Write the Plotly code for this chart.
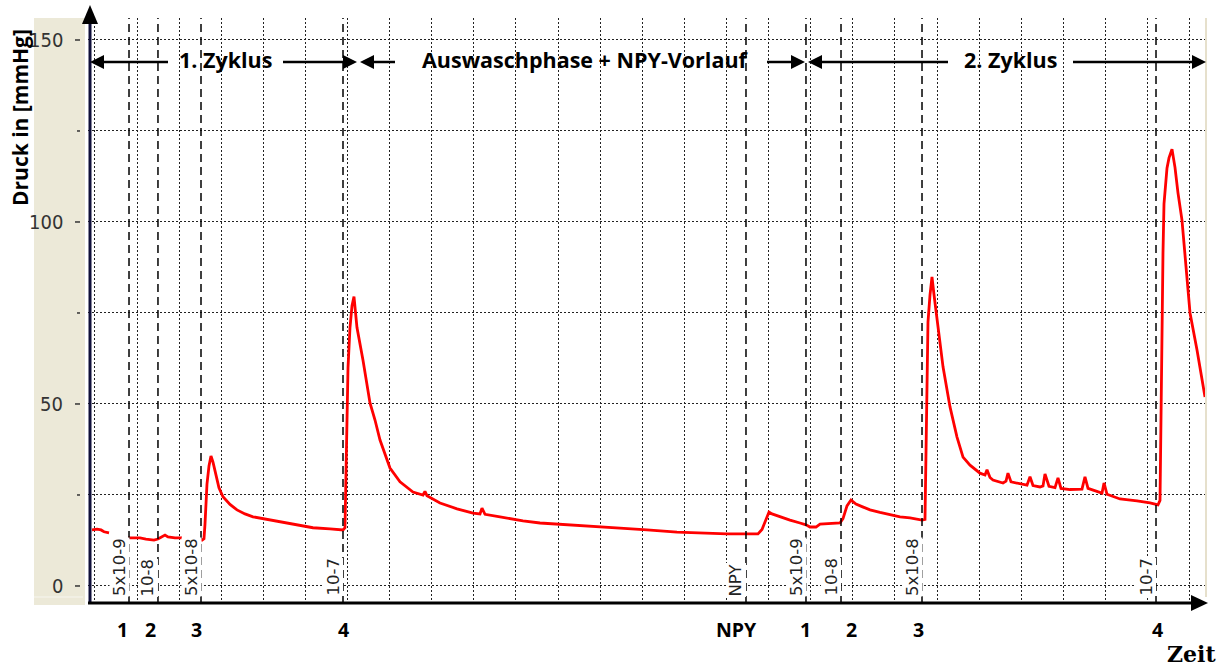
import plotly.graph_objects as go

# ---------------- data (time in grid units, pressure in mmHg) ----------------
time = [
    -0.071, 0.048, 0.143, 0.214, 0.333, None,
    0.784, 1.069, 1.211, 1.401, 1.496, 1.591, 1.663, 1.734, 1.900, 2.067, None,
    2.518, 2.589, 2.613, 2.637, 2.660, 2.708, 2.755, 2.803, 2.874, 2.945, 3.040,
    3.207, 3.373, 3.563, 3.753, 4.038, 4.394, 4.751, 5.178, 5.582, 5.891,
    5.938, 5.962, 6.010, 6.057, 6.105, 6.152, 6.223, 6.366, 6.532, 6.651, 6.770,
    7.007, 7.245, 7.553, 7.791, 7.838, 7.886, 8.195, 8.599, 8.979, 9.145, 9.192,
    9.264, 9.620, 10.166, 10.570, 11.354, 12.067, 12.470, 13.112, 13.824, 15.012,
    15.748, 15.843, 15.938, 16.010, 16.081, 16.271, 16.508, 16.746, 16.888, 16.983,
    17.126, 17.221, 17.696, 17.767, 17.862, 17.957, 18.076, 18.219, 18.409, 18.646,
    18.884, 19.121, 19.359, 19.644, 19.715, 19.739, 19.762, 19.786, 19.834, 19.881,
    19.929, 20.000, 20.071, 20.143, 20.309, 20.475, 20.618, 20.784, 21.021, 21.140,
    21.188, 21.259, 21.330, 21.568, 21.639, 21.686, 21.758, 22.138, 22.209, 22.280,
    22.447, 22.518, 22.565, 22.660, 22.803, 22.874, 22.945, 23.159, 23.444, 23.515,
    23.587, 23.753, 23.919, 23.967, 24.038, 24.347, 24.751, 25.059, 25.249, 25.297,
    25.321, 25.368, 25.392, 25.463, 25.511, 25.582, 25.653, 25.724, 25.819, 25.914,
    25.962, 26.010, 26.176, 26.366,
]
pressure = [
    15.4, 15.6, 15.4, 14.9, 14.6, None,
    13.2, 13.2, 12.9, 12.6, 12.9, 13.5, 14.0, 13.5, 13.2, 13.2, None,
    12.4, 13.0, 17.0, 22.0, 28.0, 33.0, 35.7, 34.0, 30.0, 27.0, 24.5,
    22.4, 20.9, 19.8, 19.0, 18.4, 17.6, 16.9, 16.0, 15.7, 15.4,
    16.0, 35.0, 60.0, 71.0, 77.0, 79.5, 71.0, 62.0, 50.3, 45.6, 40.1,
    32.4, 28.6, 25.8, 25.0, 26.0, 24.8, 22.8, 21.2, 20.0, 19.8, 21.4,
    19.7, 19.0, 17.9, 17.3, 16.8, 16.2, 15.9, 15.4, 14.8, 14.3,
    14.3, 15.5, 18.5, 20.3, 19.8, 19.0, 18.1, 17.3, 16.8, 16.2,
    16.2, 17.0, 17.3, 18.5, 22.0, 23.6, 22.5, 21.8, 20.9, 20.2,
    19.5, 19.0, 18.7, 18.1, 18.3, 35.0, 53.0, 72.5, 80.0, 84.9,
    80.0, 73.9, 67.0, 60.2, 49.2, 40.9, 35.4, 33.2, 31.0, 30.5,
    31.9, 29.8, 29.1, 28.3, 28.8, 31.0, 28.6, 27.7, 30.0, 27.6,
    27.2, 27.5, 30.8, 27.4, 27.0, 29.7, 26.8, 26.5, 26.6, 30.0,
    26.8, 26.2, 25.5, 28.3, 25.2, 23.9, 23.4, 22.8, 22.3, 23.5,
    49.0, 91.5, 105.0, 114.8, 117.6, 120.0, 115.0, 108.0, 100.5, 87.6,
    83.2, 75.0, 64.8, 51.9,
]

marker_time = [0.808, 1.496, 2.518, 5.891, 15.463, 16.888, 17.720, 19.644, 25.202]
marker_conc = ["5x10-9", "10-8", "5x10-8", "10-7", "NPY", "5x10-9", "10-8", "5x10-8", "10-7"]
marker_step = ["1", "2", "3", "4", "NPY", "1", "2", "3", "4"]
step_shift = [-7, -7, -5, 0, -9, 0, 10, -4, 1]

y_major = [0, 50, 100, 150]
y_minor = [25, 75, 125]
phase_names = ["1. Zyklus", "Auswaschphase + NPY-Vorlauf", "2. Zyklus"]
# pixel geometry of phase arrows: left tip, left line end, text centre, right line start, right tip
phase_geom = [(90, 168, 225, 283, 357), (360, 395, 585, 767, 805), (808, 948, 1010, 1073, 1206)]

# ---------------- layout geometry ----------------
W, H = 1230, 666
L, R, T, B = 88, 22, 18, 62
PW, PH = W - L - R, H - T - B


def P(px):
    return (px - L) / PW


def Q(py):
    return (T + PH - py) / PH


BOLD = "Open Sans"
fig = go.Figure()
fig.add_trace(go.Scatter(x=time, y=pressure, mode="lines",
                         line=dict(color="#ff0000", width=2.8),
                         connectgaps=False, hoverinfo="skip", showlegend=False))

shapes = []
annotations = []

# beige panel left
shapes.append(dict(type="rect", xref="paper", yref="paper", x0=P(34), x1=P(85), y0=Q(605), y1=Q(18),
                   fillcolor="#ECE9D8", line=dict(width=0), layer="below"))
shapes.append(dict(type="line", xref="paper", yref="paper", x0=P(34), x1=P(83), y0=Q(597), y1=Q(597),
                   line=dict(color="#F7F6F0", width=1)))
shapes.append(dict(type="line", xref="paper", yref="paper", x0=P(1206), x1=P(1206), y0=Q(597), y1=Q(18),
                   line=dict(color="#E6E0CC", width=2)))

# dashed marker lines
for t in marker_time:
    shapes.append(dict(type="line", xref="x", yref="paper", x0=t, x1=t, y0=0, y1=1,
                       line=dict(color="#000", width=1.5, dash="8px,5px")))

# axes with arrows
shapes.append(dict(type="line", xref="paper", yref="paper", x0=P(90), x1=P(90), y0=Q(604), y1=Q(22),
                   line=dict(color="#10103a", width=3)))
shapes.append(dict(type="path", xref="paper", yref="paper",
                   path=f"M {P(90)},{Q(5)} L {P(82)},{Q(24)} L {P(98)},{Q(24)} Z",
                   fillcolor="#000", line=dict(width=0)))
shapes.append(dict(type="line", xref="paper", yref="paper", x0=P(88), x1=P(1193), y0=Q(603), y1=Q(603),
                   line=dict(color="#000", width=3)))
shapes.append(dict(type="path", xref="paper", yref="paper",
                   path=f"M {P(1208)},{Q(603)} L {P(1191)},{Q(595)} L {P(1191)},{Q(611)} Z",
                   fillcolor="#000", line=dict(width=0)))

# y ticks
for v in y_major:
    shapes.append(dict(type="line", xref="paper", yref="y", x0=P(75), x1=P(80), y0=v, y1=v,
                       line=dict(color="#333", width=1.5)))
    annotations.append(dict(text=str(v), xref="paper", yref="y", x=P(65), y=v, xanchor="right",
                            yanchor="middle", showarrow=False,
                            font=dict(family="Liberation Sans Narrow, DejaVu Sans Condensed, sans-serif",
                                      size=20, color="#333")))
for v in y_minor:
    shapes.append(dict(type="line", xref="paper", yref="y", x0=P(77), x1=P(80), y0=v, y1=v,
                       line=dict(color="#333", width=1.5)))

# phase arrows
ay = Q(62)
for name, (lt, le, tc, rs, rt) in zip(phase_names, phase_geom):
    shapes.append(dict(type="line", xref="paper", yref="paper", x0=P(lt + 6), x1=P(le), y0=ay, y1=ay,
                       line=dict(color="#000", width=2.5)))
    shapes.append(dict(type="line", xref="paper", yref="paper", x0=P(rs), x1=P(rt - 6), y0=ay, y1=ay,
                       line=dict(color="#000", width=2.5)))
    shapes.append(dict(type="path", xref="paper", yref="paper",
                       path=f"M {P(lt)},{ay} L {P(lt + 14)},{Q(55)} L {P(lt + 14)},{Q(69)} Z",
                       fillcolor="#000", line=dict(width=0)))
    shapes.append(dict(type="path", xref="paper", yref="paper",
                       path=f"M {P(rt)},{ay} L {P(rt - 14)},{Q(55)} L {P(rt - 14)},{Q(69)} Z",
                       fillcolor="#000", line=dict(width=0)))
    annotations.append(dict(text=name, xref="paper", yref="paper", x=P(tc), y=Q(59),
                            xanchor="center", yanchor="middle", showarrow=False,
                            font=dict(family=BOLD, size=21.5, color="#000", weight="bold")))

# rotated concentration labels and step labels
for t, c, s, sh in zip(marker_time, marker_conc, marker_step, step_shift):
    annotations.append(dict(text=c, xref="x", yref="paper", x=t, xshift=-10, y=Q(597),
                            xanchor="center", yanchor="bottom", textangle=-90, showarrow=False,
                            bgcolor="#fff", borderpad=0,
                            font=dict(family="DejaVu Sans", size=16.5, color="#222")))
    annotations.append(dict(text=s, xref="x", yref="paper", x=t, xshift=sh, y=Q(629),
                            xanchor="center", yanchor="middle", showarrow=False,
                            font=dict(family=BOLD, size=19.5, color="#000", weight="bold")))

annotations.append(dict(text="Druck in [mmHg]", xref="paper", yref="paper", x=P(20), y=Q(118),
                        xanchor="center", yanchor="middle", textangle=-90, showarrow=False,
                        font=dict(family=BOLD, size=21, color="#000", weight="bold")))
annotations.append(dict(text="Zeit", xref="paper", yref="paper", x=P(1191), y=Q(654),
                        xanchor="center", yanchor="middle", showarrow=False,
                        font=dict(family="DejaVu Serif", size=22, color="#000", weight="bold")))

grid = dict(showgrid=True, gridcolor="#222", gridwidth=1, griddash="2px,2px",
            showticklabels=False, ticks="", zeroline=False, showline=False, fixedrange=True)

fig.update_layout(
    width=W, height=H, autosize=False,
    margin=dict(l=L, r=R, t=T, b=B, pad=0),
    paper_bgcolor="#fff", plot_bgcolor="#fff",
    xaxis=dict(range=[-0.166, 26.437], dtick=1, tick0=0, **grid),
    yaxis=dict(range=[-4.95, 156.04], dtick=25, tick0=0, **grid),
    shapes=shapes, annotations=annotations, showlegend=False,
)

fig.write_html("out.html")
